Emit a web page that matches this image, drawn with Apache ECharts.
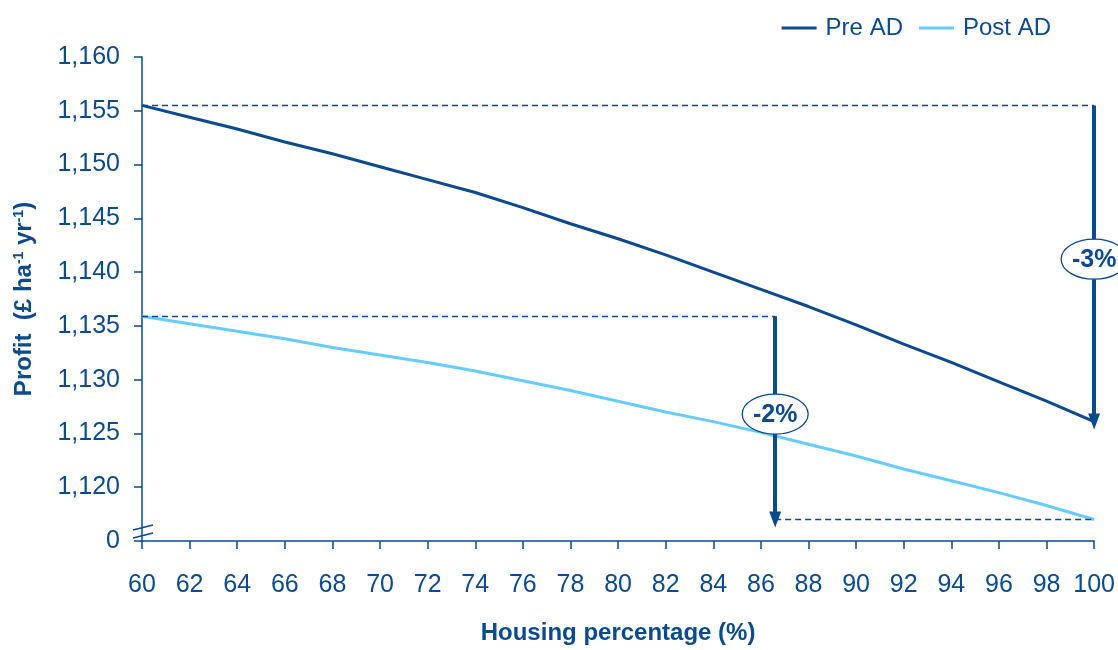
<!DOCTYPE html>
<html><head><meta charset="utf-8">
<script src="https://cdn.jsdelivr.net/npm/echarts@6/dist/echarts.min.js"></script>
<style>html,body{margin:0;padding:0;background:#fff}#c{width:1118px;height:650px}</style>
</head><body><div id="c"></div>
<script>
// ---- data ----
const housing = [60,62,64,66,68,70,72,74,76,78,80,82,84,86,88,90,92,94,96,98,100];
const preAD  = [1155.5,1154.4,1153.3,1152.1,1151.0,1149.8,1148.6,1147.4,1146.0,1144.5,1143.1,1141.6,1140.0,1138.4,1136.8,1135.1,1133.3,1131.6,1129.8,1128.0,1126.1];
const postAD = [1135.9,1135.2,1134.5,1133.8,1133.0,1132.3,1131.6,1130.8,1129.9,1129.0,1128.0,1127.0,1126.1,1125.1,1124.0,1122.9,1121.7,1120.6,1119.5,1118.3,1117.0];
const seriesNames = ['Pre AD','Post AD'];
// annotation arrows: x position, start value, end value, label, label value
const arrowX = [100, 86.6];
const arrowFrom = [1155.5, 1135.9];
const arrowTo = [1126.1, 1117.0];
const arrowLabels = ['-3%', '-2%'];
const arrowLabelY = [1141.2, 1126.8];
// y axis: bottom tick shown as 0 (axis break)
const yMin = 1115, yMax = 1160, yStep = 5;
const xMin = 60, xMax = 100, xStep = 2;

const DARK = '#0B4A8E', LIGHT = '#66CCFF';
const FONT = 'Liberation Sans, Arial, sans-serif';

const chart = echarts.init(document.getElementById('c'), null, {renderer:'canvas'});
const pair = (a,b)=>a.map((v,i)=>[v,b[i]]);

const dashLines = [
  [{coord:[xMin, arrowFrom[0]]},{coord:[arrowX[0], arrowFrom[0]]}],
  [{coord:[xMin, arrowFrom[1]]},{coord:[arrowX[1], arrowFrom[1]]}],
  [{coord:[arrowX[1], arrowTo[1]]},{coord:[xMax, arrowTo[1]]}]
];
const arrows = arrowX.map((x,i)=>[{coord:[x, arrowFrom[i]]},{coord:[x, arrowTo[i]]}]);

chart.setOption({
  animation:false,
  textStyle:{fontFamily:FONT},
  grid:{left:142,right:23,top:57,bottom:102,containLabel:false},
  legend:{
    data:seriesNames, top:11, right:62, icon:'rect', itemWidth:35, itemHeight:3, itemGap:16,
    textStyle:{fontSize:24,color:DARK,fontFamily:FONT,padding:[0,0,0,4]}
  },
  xAxis:{
    type:'value', min:xMin, max:xMax, interval:xStep,
    name:'Housing percentage (%)', nameLocation:'middle', nameGap:80,
    nameTextStyle:{fontSize:24,fontWeight:'bold',color:DARK,fontFamily:FONT},
    axisLine:{lineStyle:{color:DARK,width:1.5}},
    axisTick:{show:true,length:8,lineStyle:{color:DARK,width:1.5}},
    axisLabel:{fontSize:25,color:DARK,margin:32,fontFamily:FONT},
    splitLine:{show:false}
  },
  yAxis:{
    type:'value', min:yMin, max:yMax, interval:yStep,
    name:'{b|Profit  (£ ha}{s|-1}{b| yr}{s|-1}{b|)}', nameLocation:'middle', nameGap:106, nameRotate:90,
    nameTextStyle:{
      rich:{
        b:{fontSize:24,fontWeight:'bold',color:DARK,fontFamily:FONT,lineHeight:24,verticalAlign:'bottom'},
        s:{fontSize:14,fontWeight:'bold',color:DARK,fontFamily:FONT,lineHeight:24,verticalAlign:'top'}
      }
    },
    axisLine:{show:true,lineStyle:{color:DARK,width:1.5}},
    axisTick:{show:true,length:8,lineStyle:{color:DARK,width:1.5}},
    axisLabel:{fontSize:25,color:DARK,margin:22,fontFamily:FONT,
      formatter:v=> v===yMin ? '0' : v.toLocaleString('en-US')},
    splitLine:{show:false}
  },
  series:[
    {name:seriesNames[0],type:'line',data:pair(housing,preAD),showSymbol:false,symbol:'none',
     lineStyle:{color:DARK,width:3},itemStyle:{color:DARK},z:3,
     markLine:{silent:true,symbol:['none','none'],label:{show:false},
       lineStyle:{color:DARK,width:1.3,type:[6,4]},data:dashLines}},
    {name:seriesNames[1],type:'line',data:pair(housing,postAD),showSymbol:false,symbol:'none',
     lineStyle:{color:LIGHT,width:3},itemStyle:{color:LIGHT},z:2},
    {name:'arrows',type:'line',data:[],
     markLine:{silent:true,symbol:['none','triangle'],symbolSize:[12,16],label:{show:false},
       lineStyle:{color:DARK,width:4,type:'solid'},data:arrows}}
  ]
});

function drawExtras(){
  const g = [];
  arrowX.forEach((x,i)=>{
    const p = chart.convertToPixel({gridIndex:0},[x, arrowLabelY[i]]);
    g.push({type:'ellipse',shape:{cx:p[0],cy:p[1],rx:33,ry:20},
      style:{fill:'#fff',stroke:DARK,lineWidth:1.3},z:100});
    g.push({type:'text',x:p[0],y:p[1]+1,z:101,
      style:{text:arrowLabels[i],fill:DARK,font:'bold 25px '+FONT,align:'center',verticalAlign:'middle'}});
  });
  // axis break marks near the bottom of the y axis
  const b = chart.convertToPixel({gridIndex:0},[xMin, yMin]);
  g.push({type:'line',shape:{x1:b[0]-9,y1:b[1]-11,x2:b[0]+11,y2:b[1]-16},style:{stroke:DARK,lineWidth:1.5},z:100});
  g.push({type:'line',shape:{x1:b[0]-9,y1:b[1]-3,x2:b[0]+11,y2:b[1]-8},style:{stroke:DARK,lineWidth:1.5},z:100});
  chart.setOption({graphic:g});
}
drawExtras();
</script>
</body></html>
